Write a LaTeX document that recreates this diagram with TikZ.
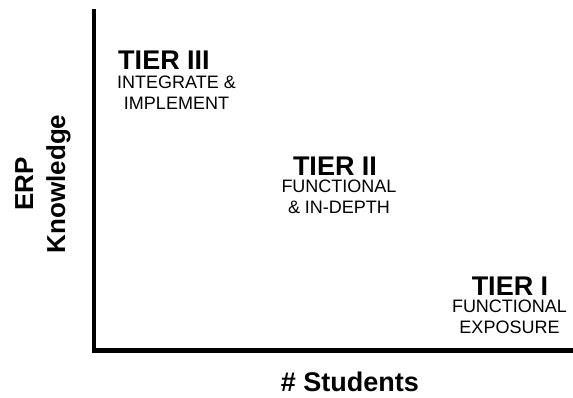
\documentclass[tikz,border=0pt]{standalone}
\usepackage{fontspec}
\setmainfont{Liberation Sans}
\begin{document}
\begin{tikzpicture}[x=1pt,y=1pt,
  tier/.style={font=\fontsize{27}{32}\selectfont\bfseries,inner sep=0pt,anchor=base},
  sub/.style={font=\fontsize{18}{21}\selectfont,align=center,inner sep=0pt,anchor=base},
  axlabel/.style={font=\fontsize{26}{32}\selectfont\bfseries,align=center,inner sep=0pt}]
\useasboundingbox (0,0) rectangle (573,397);
\coordinate (top) at (94,388);
\coordinate (origin) at (94,46.5);
\coordinate (right) at (573,46.5);
\draw[line width=4.5pt] (top) -- (origin) -- (right);
\node[axlabel,rotate=90] (knowledge) at (43,213) {ERP\\Knowledge};
\node[tier] (students) at (350,6) {\# Students};
\node[tier] (tier3) at (164,327) {TIER III};
\node[sub] (tier3sub) at (176.5,287) {INTEGRATE \&\\IMPLEMENT};
\node[tier] (tier2) at (335,222) {TIER II};
\node[sub] (tier2sub) at (339,184) {FUNCTIONAL\\\& IN-DEPTH};
\node[tier] (tier1) at (510,102) {TIER I};
\node[sub] (tier1sub) at (509.5,64) {FUNCTIONAL\\EXPOSURE};
\end{tikzpicture}
\end{document}
